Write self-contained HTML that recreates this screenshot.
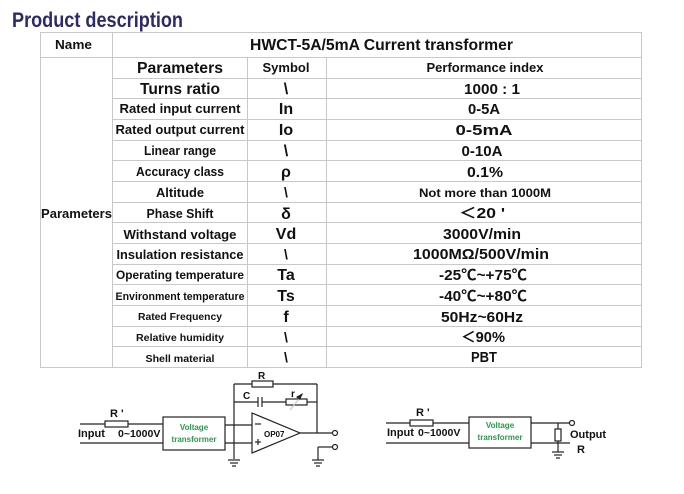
<!DOCTYPE html>
<html><head><meta charset="utf-8"><style>
html,body{margin:0;padding:0;background:#fff}
svg{display:block}
text{font-family:"Liberation Sans","Noto Sans CJK SC",sans-serif;font-weight:bold;fill:#111}
</style></head><body>
<svg width="684" height="494" viewBox="0 0 684 494" xmlns="http://www.w3.org/2000/svg">
<text x="12" y="27" font-size="21" style="fill:#2b2a6b" textLength="171" lengthAdjust="spacingAndGlyphs">Product description</text>
<g stroke="#c8c8c8" stroke-width="1" fill="none">
<rect x="40.5" y="32.5" width="601" height="335"/>
<line x1="112.5" y1="32" x2="112.5" y2="367"/>
<line x1="40" y1="57.5" x2="641" y2="57.5"/>
<line x1="247.5" y1="57" x2="247.5" y2="367"/>
<line x1="326.5" y1="57" x2="326.5" y2="367"/>
<line x1="112" y1="78.5" x2="641" y2="78.5"/><line x1="112" y1="98.5" x2="641" y2="98.5"/>
<line x1="112" y1="119.5" x2="641" y2="119.5"/><line x1="112" y1="140.5" x2="641" y2="140.5"/>
<line x1="112" y1="160.5" x2="641" y2="160.5"/><line x1="112" y1="181.5" x2="641" y2="181.5"/>
<line x1="112" y1="202.5" x2="641" y2="202.5"/><line x1="112" y1="222.5" x2="641" y2="222.5"/>
<line x1="112" y1="243.5" x2="641" y2="243.5"/><line x1="112" y1="264.5" x2="641" y2="264.5"/>
<line x1="112" y1="284.5" x2="641" y2="284.5"/><line x1="112" y1="305.5" x2="641" y2="305.5"/>
<line x1="112" y1="326.5" x2="641" y2="326.5"/><line x1="112" y1="346.5" x2="641" y2="346.5"/>
</g>
<text x="55" y="49" font-size="13" textLength="37" lengthAdjust="spacingAndGlyphs">Name</text>
<text x="250" y="50" font-size="16" textLength="263" lengthAdjust="spacingAndGlyphs">HWCT-5A/5mA  Current transformer</text>
<text x="41" y="218" font-size="13" textLength="71" lengthAdjust="spacingAndGlyphs">Parameters</text>
<g text-anchor="middle">
<text x="180" y="73" font-size="16" textLength="86" lengthAdjust="spacingAndGlyphs">Parameters</text>
<text x="286" y="72" font-size="13" textLength="47" lengthAdjust="spacingAndGlyphs">Symbol</text>
<text x="485" y="72" font-size="13" textLength="117" lengthAdjust="spacingAndGlyphs">Performance index</text>
<text x="180" y="94" font-size="16" textLength="80" lengthAdjust="spacingAndGlyphs">Turns ratio</text>
<text x="180" y="113" font-size="13" textLength="121" lengthAdjust="spacingAndGlyphs">Rated input current</text>
<text x="180" y="134" font-size="13" textLength="129" lengthAdjust="spacingAndGlyphs">Rated output current</text>
<text x="180" y="155" font-size="13" textLength="72" lengthAdjust="spacingAndGlyphs">Linear range</text>
<text x="180" y="176" font-size="13" textLength="88" lengthAdjust="spacingAndGlyphs">Accuracy class</text>
<text x="180" y="197" font-size="13" textLength="48" lengthAdjust="spacingAndGlyphs">Altitude</text>
<text x="180" y="218" font-size="13" textLength="67" lengthAdjust="spacingAndGlyphs">Phase Shift</text>
<text x="180" y="239" font-size="13" textLength="113" lengthAdjust="spacingAndGlyphs">Withstand voltage</text>
<text x="180" y="259" font-size="13" textLength="127" lengthAdjust="spacingAndGlyphs">Insulation resistance</text>
<text x="180" y="279" font-size="12" textLength="128" lengthAdjust="spacingAndGlyphs">Operating temperature</text>
<text x="180" y="300" font-size="11" textLength="129" lengthAdjust="spacingAndGlyphs">Environment temperature</text>
<text x="180" y="320" font-size="10.5" textLength="84" lengthAdjust="spacingAndGlyphs">Rated Frequency</text>
<text x="180" y="341" font-size="10.5" textLength="88" lengthAdjust="spacingAndGlyphs">Relative humidity</text>
<text x="180" y="362" font-size="10.5" textLength="69" lengthAdjust="spacingAndGlyphs">Shell material</text>
<g font-size="16">
<text x="286" y="94">\</text><text x="286" y="114">In</text><text x="286" y="135">Io</text>
<text x="286" y="156">\</text><text x="286" y="177">ρ</text><text x="286" y="197" font-size="14">\</text>
<text x="286" y="219">δ</text><text x="286" y="239">Vd</text><text x="286" y="259" font-size="14">\</text>
<text x="286" y="280">Ta</text><text x="286" y="301">Ts</text><text x="286" y="322">f</text>
<text x="286" y="342" font-size="14">\</text><text x="286" y="362" font-size="14">\</text>
</g>
<g font-size="15">
<text x="492" y="94" textLength="56" lengthAdjust="spacingAndGlyphs">1000 : 1</text>
<text x="484" y="114" textLength="32" lengthAdjust="spacingAndGlyphs">0-5A</text>
<text x="484" y="135" textLength="57" lengthAdjust="spacingAndGlyphs">0-5mA</text>
<text x="482" y="156" textLength="41" lengthAdjust="spacingAndGlyphs">0-10A</text>
<text x="485" y="177" textLength="36" lengthAdjust="spacingAndGlyphs">0.1%</text>
<text x="485" y="197" font-size="12" textLength="132" lengthAdjust="spacingAndGlyphs">Not more than 1000M</text>
<text x="482" y="218" textLength="46" lengthAdjust="spacingAndGlyphs">＜20 '</text>
<text x="482" y="239" textLength="78" lengthAdjust="spacingAndGlyphs">3000V/min</text>
<text x="481" y="259" textLength="136" lengthAdjust="spacingAndGlyphs">1000MΩ/500V/min</text>
<text x="483" y="280" textLength="88" lengthAdjust="spacingAndGlyphs">-25℃~+75℃</text>
<text x="483" y="301" textLength="88" lengthAdjust="spacingAndGlyphs">-40℃~+80℃</text>
<text x="482" y="322" textLength="82" lengthAdjust="spacingAndGlyphs">50Hz~60Hz</text>
<text x="483" y="342" textLength="44" lengthAdjust="spacingAndGlyphs">＜90%</text>
<text x="484" y="362" textLength="26" lengthAdjust="spacingAndGlyphs">PBT</text>
</g>
</g>
<!-- circuit 1 -->
<g stroke="#222" stroke-width="1.2" fill="none">
<line x1="80" y1="424" x2="105" y2="424"/><rect x="105" y="421" width="23" height="6"/><line x1="128" y1="424" x2="163" y2="424"/>
<line x1="80" y1="443" x2="163" y2="443"/>
<rect x="163" y="417" width="62" height="33"/>
<line x1="225" y1="425" x2="252" y2="425"/><line x1="225" y1="443" x2="252" y2="443"/>
<polygon points="252,413 252,453 300,433"/>
<line x1="234" y1="384" x2="234" y2="459"/>
<line x1="234" y1="384" x2="252" y2="384"/><rect x="252" y="381" width="21" height="6"/><line x1="273" y1="384" x2="317" y2="384"/>
<line x1="234" y1="402" x2="258" y2="402"/><line x1="258" y1="397" x2="258" y2="407"/><line x1="262" y1="397" x2="262" y2="407"/>
<line x1="262" y1="402" x2="286" y2="402"/><rect x="286" y="399" width="21" height="6"/><line x1="307" y1="402" x2="317" y2="402"/>
<line x1="317" y1="384" x2="317" y2="433"/>
<line x1="300" y1="433" x2="332" y2="433"/><circle cx="335" cy="433" r="2.5"/>
<line x1="318" y1="447" x2="332" y2="447"/><circle cx="335" cy="447" r="2.5"/><line x1="318" y1="447" x2="318" y2="460"/>
<line x1="228" y1="460" x2="240" y2="460"/><line x1="230" y1="463" x2="238" y2="463"/><line x1="232" y1="466" x2="236" y2="466"/>
<line x1="312" y1="460" x2="324" y2="460"/><line x1="314" y1="463" x2="322" y2="463"/><line x1="316" y1="466" x2="320" y2="466"/>
<line x1="290" y1="410" x2="303" y2="394" stroke="#ccc"/>
<line x1="255" y1="424" x2="261" y2="424"/><line x1="255" y1="442" x2="261" y2="442"/><line x1="258" y1="439" x2="258" y2="445"/>
</g>
<polygon points="303,393 296,397 300,400" fill="#222"/>
<text x="110" y="417" font-size="11">R '</text>
<text x="78" y="437" font-size="11">Input</text>
<text x="118" y="437" font-size="10.5">0~1000V</text>
<text x="258" y="379" font-size="10">R</text>
<text x="243" y="399" font-size="10">C</text>
<text x="291" y="397" font-size="10">r</text>
<text x="264" y="437" font-size="8">OP07</text>
<g text-anchor="middle" font-size="8">
<text x="194" y="430" style="fill:#2a9a4a">Voltage</text><text x="194" y="442" style="fill:#2a9a4a">transformer</text>
</g>
<!-- circuit 2 -->
<g stroke="#222" stroke-width="1.2" fill="none">
<line x1="386" y1="423" x2="410" y2="423"/><rect x="410" y="420" width="23" height="6"/><line x1="433" y1="423" x2="469" y2="423"/>
<line x1="386" y1="443" x2="469" y2="443"/>
<rect x="469" y="417" width="62" height="31"/>
<line x1="531" y1="423" x2="569" y2="423"/><circle cx="572" cy="423" r="2.5"/>
<line x1="531" y1="443" x2="570" y2="443"/>
<line x1="558" y1="423" x2="558" y2="429"/><rect x="555" y="429" width="6" height="12"/><line x1="558" y1="441" x2="558" y2="452"/>
<line x1="552" y1="452" x2="564" y2="452"/><line x1="554" y1="455" x2="562" y2="455"/><line x1="556" y1="458" x2="560" y2="458"/>
</g>
<text x="416" y="416" font-size="11">R '</text>
<text x="387" y="436" font-size="11">Input</text>
<text x="418" y="436" font-size="10.5">0~1000V</text>
<text x="570" y="438" font-size="11">Output</text>
<text x="577" y="453" font-size="11">R</text>
<g text-anchor="middle" font-size="8">
<text x="500" y="428" style="fill:#2a9a4a">Voltage</text><text x="500" y="440" style="fill:#2a9a4a">transformer</text>
</g>
</svg>
</body></html>
